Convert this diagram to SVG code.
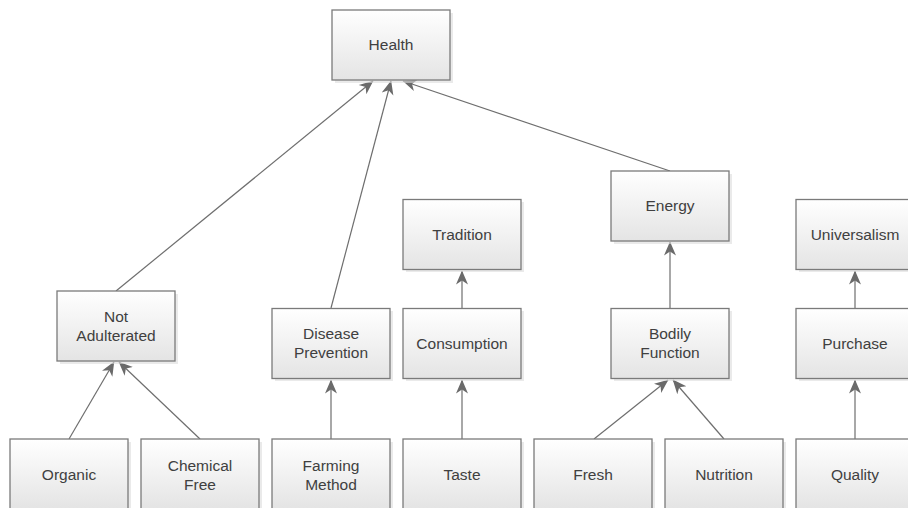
<svg xmlns="http://www.w3.org/2000/svg" width="908" height="508" viewBox="0 0 908 508">
<defs>
<linearGradient id="g" x1="0" y1="0" x2="0" y2="1">
<stop offset="0" stop-color="#ffffff"/>
<stop offset="1" stop-color="#e4e4e4"/>
</linearGradient>
<marker id="a" viewBox="0 0 14 14" refX="13.5" refY="7" markerWidth="14" markerHeight="14" markerUnits="userSpaceOnUse" orient="auto">
<path d="M14,7 L0,1 L4,7 L0,13 z" fill="#6a6a6a"/>
</marker>
</defs>
<style>
.sh{fill:#dcdcdc;opacity:0.6}
.b{fill:url(#g);stroke:#7a7a7a;stroke-width:1.3}
.t{font-family:"Liberation Sans",Arial,sans-serif;font-size:15.5px;fill:#404040;text-anchor:middle}
.c{stroke:#6e6e6e;stroke-width:1.2;fill:none;marker-end:url(#a)}
</style>
<g id="connectors">
<line class="c" x1="116" y1="291" x2="373" y2="81"/>
<line class="c" x1="331" y1="308" x2="391" y2="81"/>
<line class="c" x1="670" y1="171" x2="403" y2="81"/>
<line class="c" x1="69" y1="439" x2="114" y2="362"/>
<line class="c" x1="200" y1="439" x2="119" y2="362"/>
<line class="c" x1="331" y1="439" x2="331" y2="380"/>
<line class="c" x1="462" y1="439" x2="462" y2="380"/>
<line class="c" x1="462" y1="308" x2="462" y2="271"/>
<line class="c" x1="594" y1="439" x2="668" y2="380"/>
<line class="c" x1="724" y1="439" x2="673" y2="380"/>
<line class="c" x1="670" y1="308" x2="670" y2="242"/>
<line class="c" x1="855" y1="439" x2="855" y2="380"/>
<line class="c" x1="855" y1="308" x2="855" y2="271"/>
</g>
<g id="health"><rect class="sh" x="335" y="13" width="118" height="70"/><rect class="b" x="332" y="10" width="118" height="70"/><text class="t" x="391" y="50">Health</text></g>
<g id="not-adulterated"><rect class="sh" x="60" y="294" width="118" height="70"/><rect class="b" x="57" y="291" width="118" height="70"/><text class="t" x="116" y="322">Not</text><text class="t" x="116" y="341">Adulterated</text></g>
<g id="organic"><rect class="sh" x="13" y="442" width="118" height="70"/><rect class="b" x="10" y="439" width="118" height="70"/><text class="t" x="69" y="480">Organic</text></g>
<g id="chemical-free"><rect class="sh" x="144" y="442" width="118" height="70"/><rect class="b" x="141" y="439" width="118" height="70"/><text class="t" x="200" y="471">Chemical</text><text class="t" x="200" y="490">Free</text></g>
<g id="disease-prevention"><rect class="sh" x="275" y="311" width="118" height="70"/><rect class="b" x="272" y="308.5" width="118" height="70"/><text class="t" x="331" y="339">Disease</text><text class="t" x="331" y="358">Prevention</text></g>
<g id="farming-method"><rect class="sh" x="275" y="442" width="118" height="70"/><rect class="b" x="272" y="439" width="118" height="70"/><text class="t" x="331" y="471">Farming</text><text class="t" x="331" y="490">Method</text></g>
<g id="tradition"><rect class="sh" x="406" y="202" width="118" height="70"/><rect class="b" x="403" y="199.5" width="118" height="70"/><text class="t" x="462" y="240">Tradition</text></g>
<g id="consumption"><rect class="sh" x="406" y="311" width="118" height="70"/><rect class="b" x="403" y="308.5" width="118" height="70"/><text class="t" x="462" y="349">Consumption</text></g>
<g id="taste"><rect class="sh" x="406" y="442" width="118" height="70"/><rect class="b" x="403" y="439" width="118" height="70"/><text class="t" x="462" y="480">Taste</text></g>
<g id="energy"><rect class="sh" x="614" y="174" width="118" height="70"/><rect class="b" x="611" y="171" width="118" height="70"/><text class="t" x="670" y="211">Energy</text></g>
<g id="bodily-function"><rect class="sh" x="614" y="311" width="118" height="70"/><rect class="b" x="611" y="308.5" width="118" height="70"/><text class="t" x="670" y="339">Bodily</text><text class="t" x="670" y="358">Function</text></g>
<g id="fresh"><rect class="sh" x="537" y="442" width="118" height="70"/><rect class="b" x="534" y="439" width="118" height="70"/><text class="t" x="593" y="480">Fresh</text></g>
<g id="nutrition"><rect class="sh" x="668" y="442" width="118" height="70"/><rect class="b" x="665" y="439" width="118" height="70"/><text class="t" x="724" y="480">Nutrition</text></g>
<g id="universalism"><rect class="sh" x="799" y="202" width="118" height="70"/><rect class="b" x="796" y="199.5" width="118" height="70"/><text class="t" x="855" y="240">Universalism</text></g>
<g id="purchase"><rect class="sh" x="799" y="311" width="118" height="70"/><rect class="b" x="796" y="308.5" width="118" height="70"/><text class="t" x="855" y="349">Purchase</text></g>
<g id="quality"><rect class="sh" x="799" y="442" width="118" height="70"/><rect class="b" x="796" y="439" width="118" height="70"/><text class="t" x="855" y="480">Quality</text></g>
</svg>
